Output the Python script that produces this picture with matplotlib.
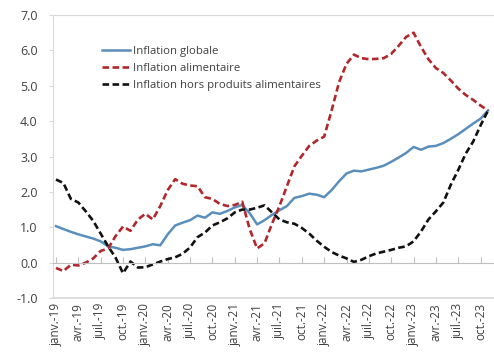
import numpy as np
import matplotlib
matplotlib.use("Agg")
import matplotlib.pyplot as plt

# Monthly inflation, janv. 2019 -> nov. 2023 (in %)
globale = [1.03, 0.95, 0.87, 0.80, 0.74, 0.68, 0.60, 0.46, 0.42, 0.36,
           0.38, 0.42, 0.46, 0.52, 0.49, 0.80, 1.05, 1.13, 1.20, 1.33,
           1.27, 1.42, 1.38, 1.46, 1.56, 1.63, 1.40, 1.08, 1.20, 1.35,
           1.48, 1.60, 1.83, 1.88, 1.95, 1.92, 1.85, 2.05, 2.30, 2.52,
           2.60, 2.58, 2.63, 2.68, 2.74, 2.85, 2.97, 3.10, 3.27, 3.19,
           3.28, 3.30, 3.38, 3.50, 3.63, 3.78, 3.93, 4.07, 4.30]
alimentaire = [-0.15, -0.24, -0.06, -0.08, 0.00, 0.12, 0.33, 0.40, 0.75, 1.02,
               0.90, 1.22, 1.38, 1.22, 1.60, 2.05, 2.36, 2.23, 2.18, 2.16,
               1.85, 1.80, 1.66, 1.60, 1.63, 1.72, 0.95, 0.40, 0.55, 1.10,
               1.60, 2.16, 2.72, 3.02, 3.30, 3.45, 3.56, 4.30, 5.10, 5.62,
               5.88, 5.78, 5.75, 5.76, 5.78, 5.90, 6.13, 6.38, 6.50, 6.10,
               5.75, 5.50, 5.36, 5.15, 4.92, 4.74, 4.60, 4.44, 4.30]
hors_alim = [2.35, 2.25, 1.80, 1.70, 1.45, 1.18, 0.82, 0.46, 0.14, -0.30,
             0.03, -0.14, -0.13, -0.05, 0.03, 0.10, 0.15, 0.25, 0.43, 0.72,
             0.85, 1.05, 1.14, 1.25, 1.42, 1.50, 1.50, 1.55, 1.62, 1.42,
             1.22, 1.14, 1.10, 0.98, 0.82, 0.62, 0.45, 0.30, 0.20, 0.12,
             0.02, 0.08, 0.18, 0.26, 0.31, 0.36, 0.42, 0.46, 0.60, 0.88,
             1.22, 1.45, 1.70, 2.20, 2.62, 3.08, 3.42, 3.88, 4.30]

tick_labels = ['janv.-19', 'avr.-19', 'juil.-19', 'oct.-19',
               'janv.-20', 'avr.-20', 'juil.-20', 'oct.-20',
               'janv.-21', 'avr.-21', 'juil.-21', 'oct.-21',
               'janv.-22', 'avr.-22', 'juil.-22', 'oct.-22',
               'janv.-23', 'avr.-23', 'juil.-23', 'oct.-23']

plt.rcParams['font.family'] = ['Open Sans', 'DejaVu Sans']

grey_txt = '#404040'
frame_col = '#d9d9d9'

fig = plt.figure(figsize=(4.94, 3.54), dpi=100)
ax = fig.add_axes([53 / 494, 56 / 354, 441 / 494, 283 / 354])

x = np.arange(len(globale))
ax.plot(x, globale, color='#5b8fbb', lw=1.8, label='Inflation globale')
ax.plot(x, alimentaire, color='#b0282c', lw=1.9, dashes=(2.5, 1.3),
        label='Inflation alimentaire')
ax.plot(x, hors_alim, color='#111111', lw=1.9, dashes=(2.5, 1.3),
        label='Inflation hors produits alimentaires')

ax.set_ylim(-1, 7)
ax.set_xlim(-0.4, 58.8)
ax.set_yticks(np.arange(-1, 8, 1))
ax.set_yticklabels([f'{v:.1f}' for v in np.arange(-1, 8, 1)])

# x axis sits on zero, labels pushed down below the frame
ax.spines['bottom'].set_position(('data', 0))
ax.spines['bottom'].set_color('#bfbfbf')
ax.spines['left'].set_color(frame_col)
ax.spines['top'].set_color(frame_col)
ax.spines['right'].set_visible(False)
ax.axhline(-1, color=frame_col, lw=1.2, clip_on=False)

ax.set_xticks(x[::3])
ax.set_xticklabels(tick_labels, rotation=90, ha='center', va='top')
ax.tick_params(axis='x', direction='in', length=4, color='#bfbfbf',
               pad=29, labelsize=8.5, labelcolor=grey_txt)
ax.tick_params(axis='y', direction='out', length=3, color=frame_col,
               pad=8, labelsize=9, labelcolor=grey_txt)

leg = ax.legend(loc='upper left', bbox_to_anchor=(0.098, 0.91),
                frameon=False, fontsize=8.2, borderpad=0, labelspacing=0.5,
                handlelength=2.5, handletextpad=0.2)
for t in leg.get_texts():
    t.set_color(grey_txt)

fig.savefig('out.png', dpi=100)
